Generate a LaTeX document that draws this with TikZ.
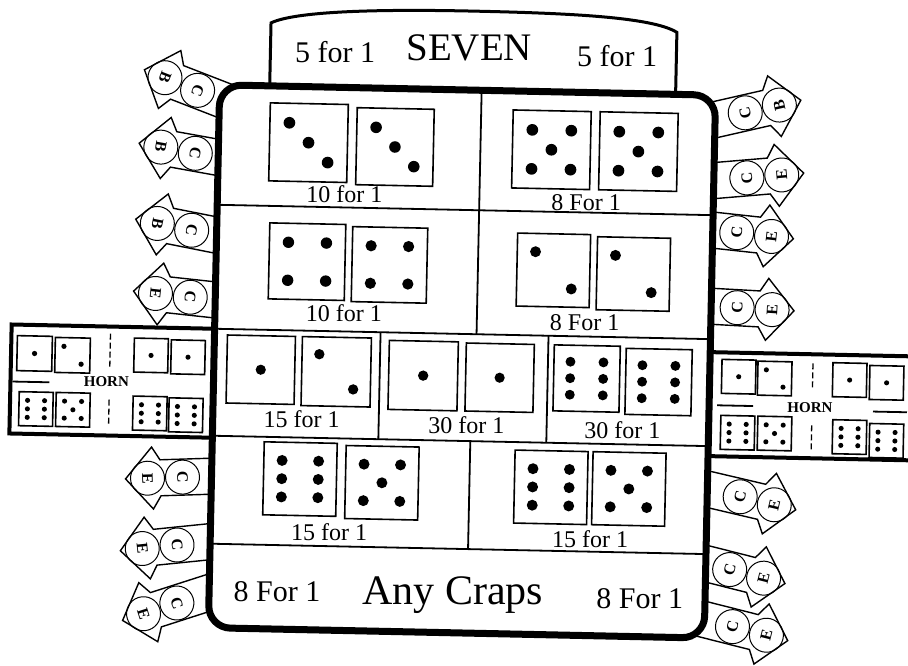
\documentclass[tikz,border=0pt]{standalone}
\usepackage{fontspec}
\setmainfont{Liberation Serif}

% pip places on a unit die, x/y measured from the top left corner
\newcommand{\pipsi}{.5/.5}
\newcommand{\pipsii}{.25/.25,.75/.75}
\newcommand{\pipsiii}{.25/.25,.5/.5,.75/.75}
\newcommand{\pipsiv}{.25/.25,.75/.25,.25/.75,.75/.75}
\newcommand{\pipsv}{.25/.25,.75/.25,.5/.5,.25/.75,.75/.75}
\newcommand{\pipsvi}{.25/.25,.25/.5,.25/.75,.75/.25,.75/.5,.75/.75}

% \dieface{x}{y}{size}{pips}
\newcommand{\dieface}[4]{%
  \begin{scope}[shift={(#1,#2)}, x=#3pt, y=-#3pt]
    \draw[diceline] (0,0) rectangle (1,1);
    \expandafter\let\expandafter\piplist\csname pips\romannumeral#4\endcsname
    \foreach \px/\py in \piplist {\fill (\px,\py) circle (.075);}
  \end{scope}}

% \cearrow{name}{x}{y}{direction}{outer letter}, x/y is the centre of the C ring
\newcommand{\cearrow}[5]{%
  \begin{scope}[shift={(#2,#3)}, rotate=#4]
    \draw[cebody] (-70,18) -- (22,18) -- (30,31) -- (57,0) -- (30,-31) -- (22,-18) -- (-70,-18) -- cycle;
    \draw[cering] (0,0) circle (17);
    \draw[cering] (35,0) circle (17);
    \node[ringtext] (#1c) at (0,0) {C};
    \node[ringtext] (#1e) at (35,0) {#5};
  \end{scope}}

\begin{document}
\begin{tikzpicture}[x=1pt, y=-1pt,
    boardline/.style={line width=7pt, rounded corners=22pt, fill=white},
    bannerline/.style={line width=3pt, fill=white},
    hornbox/.style={line width=4pt, fill=white},
    rowline/.style={line width=1.8pt},
    diceline/.style={line width=1.6pt},
    hornsplit/.style={line width=1.3pt, dash pattern=on 6pt off 3pt},
    cebody/.style={line width=1.4pt, fill=white, line join=miter},
    cering/.style={line width=1pt},
    ringtext/.style={font=\bfseries\fontsize{16}{16}\selectfont, inner sep=0pt, transform shape, rotate=90},
    odds/.style={font=\fontsize{24}{26}\selectfont, anchor=base, inner sep=0pt},
    bigodds/.style={font=\fontsize{30}{32}\selectfont, anchor=base, inner sep=0pt},
    bigtext/.style={font=\fontsize{39}{41}\selectfont, anchor=base, inner sep=0pt},
    horntext/.style={font=\bfseries\fontsize{15}{15}\selectfont, anchor=base, inner sep=0pt}]

  \path[use as bounding box, clip] (0,0) rectangle (908,666);
  \fill[white] (0,0) rectangle (908,666);

  \begin{scope}[rotate around={-1.2:(465,360)}]

  % SEVEN banner behind the board
  \draw[bannerline] (264,100) -- (264,27) .. controls (290,14) and (380,11) .. (462,11)
    .. controls (560,11) and (645,13) .. (670,28) -- (670,100);
  \node[bigodds] (sevenL) at (329,65) {5 for 1};
  \node[bigtext] (seven) at (463,60) {SEVEN};
  \node[bigodds] (sevenR) at (611,63) {5 for 1};

  % horn boxes, left and right
  \draw[hornbox] (11,334) rectangle (230,443); % Draws a rectangle
  \draw[hornbox] (700,347) rectangle (930,451); % Draws a rectangle
  \draw[rowline] (13,391) -- (50,391);
  \draw[rowline] (718,400) -- (754,400);
  \draw[rowline] (874,403) -- (908,403);
  \draw[hornsplit] (110,341) -- (110,374);
  \draw[hornsplit] (110,407) -- (110,432);
  \draw[hornsplit] (813,356) -- (813,380);
  \draw[hornsplit] (813,418) -- (813,443);
  \node[horntext] (hornL) at (107,394) {HORN};
  \node[horntext] (hornR) at (811,405) {HORN};
  \dieface{17}{345}{35}{1} \dieface{55}{346}{35}{2}
  \dieface{134}{345}{34}{1} \dieface{171}{346}{34}{1}
  \dieface{20}{401}{34}{6} \dieface{57}{401}{34}{5}
  \dieface{134}{403}{34}{6} \dieface{170}{404}{34}{6}
  \dieface{722}{354}{34}{1} \dieface{758}{355}{34}{2}
  \dieface{833}{355}{34}{1} \dieface{870}{357}{34}{1}
  \dieface{722}{410}{34}{6} \dieface{759}{410}{34}{5}
  \dieface{834}{412}{34}{6} \dieface{871}{415}{34}{6}

  % C and E arrows
  \cearrow{ceLa}{192}{96}{160}{B}
  \cearrow{ceLb}{191}{159}{171}{B}
  \cearrow{ceLc}{189}{236}{170}{B}
  \cearrow{ceLd}{189}{303}{175}{E}
  \cearrow{ceLe}{185}{483}{183}{E}
  \cearrow{ceLf}{181}{551}{187}{E}
  \cearrow{ceLg}{182}{609}{199}{E}
  \cearrow{ceRa}{740}{107}{14}{B}
  \cearrow{ceRb}{743}{172}{6}{E}
  \cearrow{ceRc}{734}{227}{-5}{E}
  \cearrow{ceRd}{736}{302}{-2}{E}
  \cearrow{ceRe}{743}{491}{-12}{E}
  \cearrow{ceRf}{734}{564}{-13}{E}
  \cearrow{ceRg}{738}{621}{-13}{E}

  % the board
  \draw[boardline] (214,90) rectangle (710,633); % Draws a rectangle
  \draw[rowline] (214,210) -- (710,210);
  \draw[rowline] (214,334) -- (710,334);
  \draw[rowline] (214,441) -- (710,441);
  \draw[rowline] (214,549) -- (710,549);
  \draw[rowline] (476,90) -- (476,334);
  \draw[rowline] (380,334) -- (380,441);
  \draw[rowline] (548,334) -- (548,441);
  \draw[rowline] (472,441) -- (472,549);

  % hard ways and the rest
  \dieface{265}{107}{78}{3} \dieface{352}{110}{77}{3}
  \dieface{508}{109}{78}{5} \dieface{595}{109}{78}{5}
  \node[odds] (hardsix) at (341,205) {10 for 1};
  \node[odds] (hardten) at (583,208) {8 For 1};

  \dieface{267}{227}{76}{4} \dieface{350}{229}{75}{4}
  \dieface{515}{232}{73}{2} \dieface{595}{234}{73}{2}
  \node[odds] (hardeight) at (343,324) {10 for 1};
  \node[odds] (hardfour) at (584,328) {8 For 1};

  \dieface{227}{340}{68}{1} \dieface{302}{340}{69}{2}
  \dieface{389}{342}{69}{1} \dieface{466}{343}{68}{1}
  \dieface{554}{343}{66}{6} \dieface{626}{345}{66}{6}
  \node[odds] (three) at (303,431) {15 for 1};
  \node[odds] (two) at (468,433) {30 for 1};
  \node[odds] (twelve) at (624,435) {30 for 1};

  \dieface{266}{446}{73}{6} \dieface{348}{448}{73}{5}
  \dieface{517}{449}{73}{6} \dieface{595}{449}{73}{5}
  \node[odds] (elevenL) at (333,543) {15 for 1};
  \node[odds] (elevenR) at (594,545) {15 for 1};

  \node[bigodds] (crapsL) at (282,605) {8 For 1};
  \node[font=\fontsize{42}{44}\selectfont, anchor=base, inner sep=0pt] (craps) at (458,605) {Any Craps};
  \node[bigodds] (crapsR) at (645,605) {8 For 1};

  \end{scope}
\end{tikzpicture}
\end{document}
